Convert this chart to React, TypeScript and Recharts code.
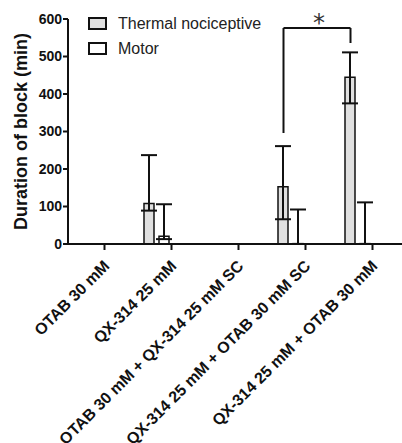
import React from 'react';
import {
  BarChart,
  Bar,
  XAxis,
  YAxis,
  ErrorBar,
  Legend,
  ReferenceLine,
} from 'recharts';

const categories = [
  'OTAB 30 mM',
  'QX-314 25 mM',
  'OTAB 30 mM + QX-314 25 mM SC',
  'QX-314 25 mM + OTAB 30 mM SC',
  'QX-314 25 mM + OTAB 30 mM',
];

const seriesNames = ['Thermal nociceptive', 'Motor'];

const thermalMean = [0, 108, 0, 153, 445];
const thermalErrLow = [0, 19, 0, 87, 70];
const thermalErrHigh = [0, 129, 0, 108, 66];

const motorMean = [0, 21, 0, 1, 1];
const motorErrLow = [0, 8, 0, 1, 1];
const motorErrHigh = [0, 85, 0, 91, 110];

const yTicks = [0, 100, 200, 300, 400, 500, 600];

// significance bracket between group 4 and group 5 (thermal)
const bracketFrom = categories[3];
const bracketTo = categories[4];
const bracketLeftLow = 296;
const bracketRightLow = 536;
const bracketTop = 576;

const data = categories.map((name, i) => ({
  name,
  thermal: thermalMean[i],
  thermalErr: [thermalErrLow[i], thermalErrHigh[i]],
  motor: motorMean[i],
  motorErr: [motorErrLow[i], motorErrHigh[i]],
}));

const FONT = '"Liberation Sans", Arial, sans-serif';
const INK = '#111';
const SHIFT = -22; // bracket sits over the thermal bars, left of the tick

const XTick = ({ x, y, payload }: any) => (
  <g transform={`translate(${x + 6},${y + 15})`}>
    <text
      textAnchor="end"
      transform="rotate(-45)"
      fontSize={16}
      fontWeight="bold"
      fontFamily={FONT}
      fill={INK}
    >
      {payload.value}
    </text>
  </g>
);

const YLabel = ({ viewBox }: any) => {
  const cx = viewBox.x + 27;
  const cy = viewBox.y + viewBox.height / 2;
  return (
    <text
      x={cx}
      y={cy}
      transform={`rotate(-90, ${cx}, ${cy})`}
      textAnchor="middle"
      fontSize={18}
      fontWeight="bold"
      fontFamily={FONT}
      fill={INK}
    >
      Duration of block (min)
    </text>
  );
};

const renderLegend = ({ payload }: any) => {
  const items = (payload || [])
    .filter((e: any) => seriesNames.includes(e.value))
    .sort((a: any, b: any) => seriesNames.indexOf(a.value) - seriesNames.indexOf(b.value));
  return (
    <div style={{ fontFamily: FONT }}>
      {items.map((entry: any) => (
        <div
          key={entry.value}
          style={{ display: 'flex', alignItems: 'center', height: 25 }}
        >
          <span
            style={{
              display: 'inline-block',
              boxSizing: 'border-box',
              width: 19,
              height: 13,
              border: `2px solid ${INK}`,
              background: entry.color,
            }}
          />
          <span style={{ marginLeft: 11, fontSize: 16, color: '#222' }}>
            {entry.value}
          </span>
        </div>
      ))}
    </div>
  );
};

const bracketLine = (props: any) => (
  <line
    x1={props.x1 + SHIFT}
    y1={props.y1}
    x2={props.x2 + SHIFT}
    y2={props.y2}
    stroke={INK}
    strokeWidth={2}
  />
);

const bracketTopLine = (props: any) => (
  <g>
    <line
      x1={props.x1 + SHIFT}
      y1={props.y1}
      x2={props.x2 + SHIFT}
      y2={props.y2}
      stroke={INK}
      strokeWidth={2}
    />
    <text
      x={(props.x1 + props.x2) / 2 + SHIFT + 2}
      y={props.y1 + 3}
      textAnchor="middle"
      fontSize={24}
      fontFamily="DejaVu Sans"
      fill="#333"
    >
      *
    </text>
  </g>
);

export default function App() {
  return (
    <div
      style={{
        position: 'absolute',
        left: 0,
        top: 0,
        width: 402,
        height: 443,
        overflow: 'hidden',
        background: '#fff',
      }}
    >
      <BarChart
        width={410}
        height={443}
        data={data}
        margin={{ top: 19, right: 4, left: 0, bottom: 0 }}
        barSize={10}
        barGap={5}
      >
        <XAxis
          dataKey="name"
          interval={0}
          height={199}
          padding={{ left: 3, right: 0 }}
          axisLine={{ stroke: INK, strokeWidth: 2 }}
          tickLine={{ stroke: INK, strokeWidth: 2 }}
          tickSize={6}
          tick={<XTick />}
        />
        <YAxis
          domain={[0, 600]}
          ticks={yTicks}
          width={68}
          axisLine={{ stroke: INK, strokeWidth: 2 }}
          tickLine={{ stroke: INK, strokeWidth: 2 }}
          tickSize={5}
          tickMargin={1}
          tick={{ fill: INK, fontSize: 14, fontWeight: 'bold', fontFamily: FONT }}
          label={<YLabel />}
        />
        <Legend
          layout="horizontal"
          verticalAlign="middle"
          align="center"
          content={renderLegend}
          wrapperStyle={{ top: 11, left: 88, width: 220, height: 50 }}
        />
        <Bar
          dataKey="thermal"
          name={seriesNames[0]}
          fill="#e0e0e0"
          stroke={INK}
          strokeWidth={1.5}
          isAnimationActive={false}
        >
          <ErrorBar dataKey="thermalErr" width={8} stroke={INK} strokeWidth={2} />
        </Bar>
        <Bar
          dataKey="motor"
          name={seriesNames[1]}
          fill="#ffffff"
          stroke={INK}
          strokeWidth={1.5}
          isAnimationActive={false}
        >
          <ErrorBar dataKey="motorErr" width={8} stroke={INK} strokeWidth={2} />
        </Bar>
        {/* empty slots keep the pair left of the tick, as in the original */}
        <Bar dataKey="slotA" legendType="none" isAnimationActive={false} />
        <Bar dataKey="slotB" legendType="none" isAnimationActive={false} />
        <ReferenceLine
          segment={[
            { x: bracketFrom, y: bracketLeftLow },
            { x: bracketFrom, y: bracketTop },
          ]}
          shape={bracketLine}
        />
        <ReferenceLine
          segment={[
            { x: bracketFrom, y: bracketTop },
            { x: bracketTo, y: bracketTop },
          ]}
          shape={bracketTopLine}
        />
        <ReferenceLine
          segment={[
            { x: bracketTo, y: bracketRightLow },
            { x: bracketTo, y: bracketTop },
          ]}
          shape={bracketLine}
        />
      </BarChart>
    </div>
  );
}
